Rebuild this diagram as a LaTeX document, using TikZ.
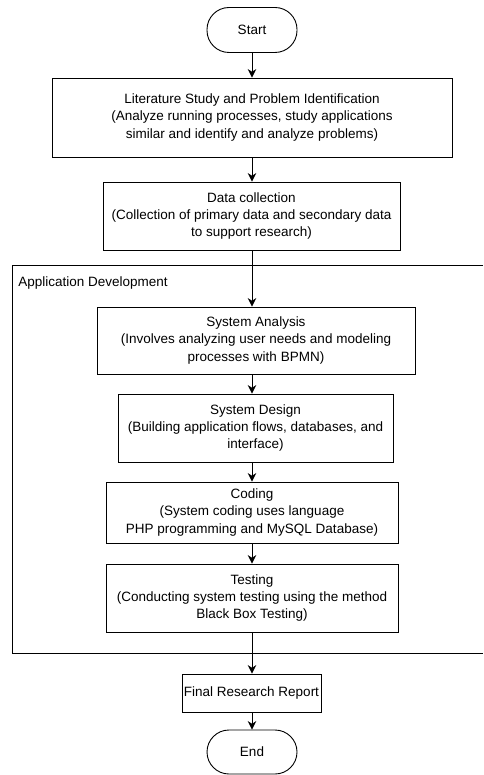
\documentclass[tikz,border=0pt]{standalone}
\usepackage{fontspec}
\setmainfont{Liberation Sans}
\usepackage{tikz}
\usetikzlibrary{arrows.meta,positioning}
\tikzset{
  term/.style={draw,rounded corners=22pt,minimum width=90pt,minimum height=45pt,inner sep=0pt},
  proc/.style={draw,align=center,inner sep=2pt},
  lane/.style={line width=0.9pt},
  every node/.style={font=\fontsize{13.5}{17.3}\selectfont}
}
\tikzstyle{arrow} = [line width=0.9pt,-{Stealth[length=8.5pt,width=8.5pt]}]

\begin{document}
\begin{tikzpicture}[x=1pt,y=-1pt,line width=0.9pt]
\useasboundingbox (0,0) rectangle (483,775);
% application development frame (open on the right)
\draw[lane] (483,265) -- (12,265) -- (12,653) -- (483,653);
\node[anchor=base west,inner sep=0pt] (lbl) at (18,287) {Application Development};
\node[term] (start) at (252,30) {Start};
\node[proc,minimum width=400pt,minimum height=79pt] (lit) at (252,117.5)
  {Literature Study and Problem Identification\\(Analyze running processes, study applications\\similar and identify and analyze problems)};
\node[proc,minimum width=297pt,minimum height=68pt] (data) at (251.5,216)
  {Data collection\\(Collection of primary data and secondary data\\to support research)};
\node[proc,minimum width=318pt,minimum height=67pt] (ana) at (256,340.5)
  {System Analysis\\(Involves analyzing user needs and modeling\\processes with BPMN)};
\node[proc,minimum width=275pt,minimum height=68pt] (des) at (255.5,428)
  {System Design\\(Building application flows, databases, and\\interface)};
\node[proc,minimum width=292pt,minimum height=61pt] (cod) at (252,512.5)
  {Coding\\(System coding uses language\\PHP programming and MySQL Database)};
\node[proc,minimum width=292pt,minimum height=68pt] (tst) at (252,598)
  {Testing\\(Conducting system testing using the method\\Black Box Testing)};
\node[proc,minimum width=139pt,minimum height=38pt] (rep) at (251.5,693) {Final Research Report};
\node[term,minimum height=44pt] (end) at (252,752) {End};
\draw[arrow] (start) -- (lit);
\draw[arrow] (lit) -- (lit.south |- data.north);
\draw[arrow] (data.south -| start) -- (ana.north -| start);
\draw[arrow] (ana.south -| start) -- (des.north -| start);
\draw[arrow] (des.south -| start) -- (cod.north -| start);
\draw[arrow] (cod) -- (tst);
\draw[arrow] (tst) -- (tst.south |- rep.north);
\draw[arrow] (rep.south -| end) -- (end);
\end{tikzpicture}
\end{document}
